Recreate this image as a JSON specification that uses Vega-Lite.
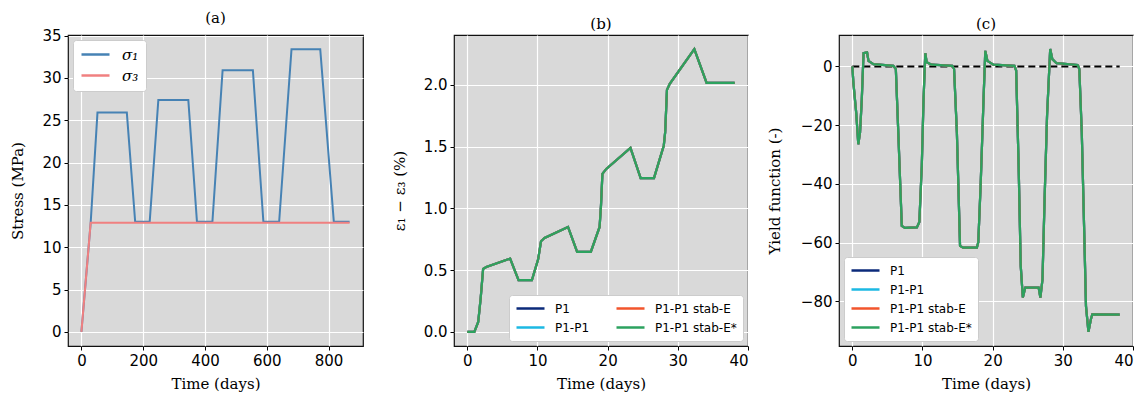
{
  "$schema": "https://vega.github.io/schema/vega-lite/v6.json",
  "background": "white",
  "padding": {"left": 10, "top": 9, "right": 5, "bottom": 5},
  "spacing": 91,
  "bounds": "flush",
  "config": {
    "view": {"fill": "#d9d9d9", "stroke": "#111111", "strokeWidth": 1.2},
    "axis": {
      "labelFont": "DejaVu Sans", "labelFontSize": 15, "labelColor": "black",
      "titleFont": "DejaVu Serif", "titleFontSize": 15, "titleFontWeight": "normal", "titleColor": "black",
      "tickColor": "black", "tickSize": 4, "tickWidth": 1, "domain": false,
      "gridColor": "white", "gridWidth": 1.2, "gridOpacity": 1, "labelPadding": 3
    },
    "axisX": {"titlePadding": 8},
    "title": {"font": "DejaVu Serif", "fontSize": 15, "fontWeight": "normal", "color": "black", "offset": 3},
    "legend": {
      "labelFont": "DejaVu Sans", "labelFontSize": 12, "labelColor": "black",
      "symbolType": "stroke", "symbolSize": 784, "symbolStrokeWidth": 2.5,
      "labelOffset": 9, "fillColor": "white", "strokeColor": "#cccccc", "cornerRadius": 3,
      "padding": 6, "rowPadding": 4, "clipHeight": 15, "offset": 5
    }
  },
  "hconcat": [
    {
      "title": "(a)",
      "width": 295, "height": 311,
      "data": {"values": [
        {"t": 0, "s": 0, "series": "σ₁"},
        {"t": 30, "s": 12.9, "series": "σ₁"},
        {"t": 52, "s": 25.9, "series": "σ₁"},
        {"t": 147, "s": 25.9, "series": "σ₁"},
        {"t": 174, "s": 13.0, "series": "σ₁"},
        {"t": 221, "s": 13.0, "series": "σ₁"},
        {"t": 249, "s": 27.4, "series": "σ₁"},
        {"t": 346, "s": 27.4, "series": "σ₁"},
        {"t": 374, "s": 13.0, "series": "σ₁"},
        {"t": 424, "s": 13.0, "series": "σ₁"},
        {"t": 457, "s": 30.9, "series": "σ₁"},
        {"t": 555, "s": 30.9, "series": "σ₁"},
        {"t": 589, "s": 13.0, "series": "σ₁"},
        {"t": 640, "s": 13.0, "series": "σ₁"},
        {"t": 680, "s": 33.4, "series": "σ₁"},
        {"t": 773, "s": 33.4, "series": "σ₁"},
        {"t": 817, "s": 13.0, "series": "σ₁"},
        {"t": 868, "s": 13.0, "series": "σ₁"},
        {"t": 0, "s": 0, "series": "σ₃"},
        {"t": 30, "s": 12.9, "series": "σ₃"},
        {"t": 868, "s": 12.9, "series": "σ₃"}
      ]},
      "mark": {"type": "line", "strokeWidth": 2, "clip": true},
      "encoding": {
        "x": {"field": "t", "type": "quantitative", "scale": {"domain": [-43.4, 911.4], "nice": false, "zero": false},
              "axis": {"values": [0, 200, 400, 600, 800], "title": "Time (days)"}},
        "y": {"field": "s", "type": "quantitative", "scale": {"domain": [-1.67, 35.07], "nice": false, "zero": false},
              "axis": {"values": [0, 5, 10, 15, 20, 25, 30, 35], "title": "Stress (MPa)", "titlePadding": 16}},
        "color": {"field": "series", "type": "nominal",
                  "scale": {"domain": ["σ₁", "σ₃"], "range": ["#4682b4", "#f08080"]},
                  "legend": {"title": null, "orient": "top-left", "labelFont": "DejaVu Serif", "labelFontSize": 15, "labelFontStyle": "italic", "padding": 7, "rowPadding": 5, "labelOffset": 11}}
      }
    },
    {
      "title": "(b)",
      "width": 294, "height": 311,
      "data": {"values": [
        {"t": 0, "v": 0}, {"t": 1.0, "v": 0.0}, {"t": 1.55, "v": 0.08}, {"t": 1.9, "v": 0.27},
        {"t": 2.25, "v": 0.51}, {"t": 2.7, "v": 0.525}, {"t": 6.1, "v": 0.593}, {"t": 7.3, "v": 0.418},
        {"t": 9.2, "v": 0.418}, {"t": 10.1, "v": 0.59}, {"t": 10.5, "v": 0.734}, {"t": 11.0, "v": 0.76},
        {"t": 14.35, "v": 0.85}, {"t": 15.65, "v": 0.647}, {"t": 17.6, "v": 0.647}, {"t": 18.85, "v": 0.85},
        {"t": 19.05, "v": 1.025}, {"t": 19.25, "v": 1.28}, {"t": 19.8, "v": 1.32}, {"t": 23.25, "v": 1.49},
        {"t": 24.7, "v": 1.246}, {"t": 26.6, "v": 1.246}, {"t": 28.0, "v": 1.51}, {"t": 28.2, "v": 1.62},
        {"t": 28.45, "v": 1.96}, {"t": 28.85, "v": 2.01}, {"t": 32.35, "v": 2.29}, {"t": 34.1, "v": 2.017},
        {"t": 38.1, "v": 2.017}
      ]},
      "encoding": {
        "x": {"field": "t", "type": "quantitative", "scale": {"domain": [-1.9, 40], "nice": false, "zero": false},
              "axis": {"values": [0, 10, 20, 30, 40], "title": "Time (days)"}},
        "y": {"field": "v", "type": "quantitative", "scale": {"domain": [-0.115, 2.405], "nice": false, "zero": false},
              "axis": {"values": [0, 0.5, 1, 1.5, 2], "format": ".1f", "title": "ε₁ − ε₃ (%)", "titlePadding": 16}}
      },
      "layer": [
        {"mark": {"type": "line", "strokeWidth": 2.2}, "encoding": {"color": {"datum": "P1", "type": "nominal",
          "scale": {"domain": ["P1", "P1-P1", "P1-P1 stab-E", "P1-P1 stab-E*"], "range": ["#0b2a7a", "#1cb9e3", "#f2552c", "#2ca25f"]}}}},
        {"mark": {"type": "line", "strokeWidth": 2.2}, "encoding": {"color": {"datum": "P1-P1", "type": "nominal"}}},
        {"mark": {"type": "line", "strokeWidth": 2.2}, "encoding": {"color": {"datum": "P1-P1 stab-E", "type": "nominal"}}},
        {"mark": {"type": "line", "strokeWidth": 2.2}, "encoding": {"color": {"datum": "P1-P1 stab-E*", "type": "nominal",
          "scale": {"domain": ["P1", "P1-P1", "P1-P1 stab-E", "P1-P1 stab-E*"], "range": ["#0b2a7a", "#1cb9e3", "#f2552c", "#2ca25f"]},
          "legend": {"title": null, "orient": "bottom-right", "columns": 2, "columnPadding": 25}}}}
      ],
      "resolve": {"scale": {"color": "shared"}}
    },
    {
      "title": "(c)",
      "width": 294, "height": 311,
      "encoding": {
        "x": {"field": "t", "type": "quantitative", "scale": {"domain": [-1.9, 40], "nice": false, "zero": false},
              "axis": {"values": [0, 10, 20, 30, 40], "title": "Time (days)"}},
        "y": {"field": "v", "type": "quantitative", "scale": {"domain": [-95.2, 10.7], "nice": false, "zero": false},
              "axis": {"values": [-80, -60, -40, -20, 0], "title": "Yield function (-)", "titlePadding": 18,
                       "labelExpr": "datum.value < 0 ? '\u2212' + format(-datum.value, 'd') : format(datum.value, 'd')"}}
      },
      "layer": [
        {
          "data": {"values": [{"t": 0, "v": 0}, {"t": 38.1, "v": 0}]},
          "mark": {"type": "line", "color": "black", "strokeWidth": 2, "strokeDash": [7, 4]}
        },
        {
          "data": {"name": "yf", "values": [
            {"t": 0, "v": 0}, {"t": 0.15, "v": -5.5}, {"t": 0.55, "v": -15.7}, {"t": 0.85, "v": -26.5},
            {"t": 1.1, "v": -22.5}, {"t": 1.35, "v": -11.1}, {"t": 1.6, "v": 4.5}, {"t": 2.1, "v": 4.8},
            {"t": 2.3, "v": 1.9}, {"t": 3.0, "v": 0.8}, {"t": 5.85, "v": 0.2}, {"t": 6.2, "v": -0.9},
            {"t": 6.55, "v": -22.5}, {"t": 7.05, "v": -54.3}, {"t": 7.5, "v": -55.0}, {"t": 9.2, "v": -54.8},
            {"t": 9.55, "v": -53}, {"t": 9.9, "v": -33.8}, {"t": 10.15, "v": -11.1}, {"t": 10.4, "v": 4.5},
            {"t": 10.6, "v": 1.4}, {"t": 11.3, "v": 0.6}, {"t": 14.25, "v": 0.2}, {"t": 14.5, "v": -0.9},
            {"t": 14.9, "v": -22.5}, {"t": 15.35, "v": -61.1}, {"t": 15.8, "v": -61.7}, {"t": 17.75, "v": -61.7},
            {"t": 17.95, "v": -59.9}, {"t": 18.3, "v": -39.5}, {"t": 18.7, "v": -11.1}, {"t": 18.95, "v": 5.3},
            {"t": 19.25, "v": 1.9}, {"t": 20.1, "v": 0.6}, {"t": 23.1, "v": 0.2}, {"t": 23.35, "v": -1.4},
            {"t": 23.7, "v": -33.8}, {"t": 24.0, "v": -67.9}, {"t": 24.3, "v": -78.7}, {"t": 24.65, "v": -75.3},
            {"t": 26.55, "v": -75.3}, {"t": 26.8, "v": -78.7}, {"t": 27.1, "v": -72.5}, {"t": 27.4, "v": -45.2},
            {"t": 27.75, "v": -16.9}, {"t": 28.2, "v": 5.9}, {"t": 28.5, "v": 2.5}, {"t": 29.1, "v": 1.1},
            {"t": 32.1, "v": 0.5}, {"t": 32.35, "v": -0.9}, {"t": 32.7, "v": -22.5}, {"t": 33.05, "v": -56.6},
            {"t": 33.3, "v": -81.6}, {"t": 33.65, "v": -90.4}, {"t": 34.0, "v": -86.1}, {"t": 34.2, "v": -84.4},
            {"t": 38.1, "v": -84.5}
          ]},
          "layer": [
            {"mark": {"type": "line", "strokeWidth": 2.2}, "encoding": {"color": {"datum": "P1", "type": "nominal",
              "scale": {"domain": ["P1", "P1-P1", "P1-P1 stab-E", "P1-P1 stab-E*"], "range": ["#0b2a7a", "#1cb9e3", "#f2552c", "#2ca25f"]}}}},
            {"mark": {"type": "line", "strokeWidth": 2.2}, "encoding": {"color": {"datum": "P1-P1", "type": "nominal"}}},
            {"mark": {"type": "line", "strokeWidth": 2.2}, "encoding": {"color": {"datum": "P1-P1 stab-E", "type": "nominal"}}},
            {"mark": {"type": "line", "strokeWidth": 2.2}, "encoding": {"color": {"datum": "P1-P1 stab-E*", "type": "nominal",
              "scale": {"domain": ["P1", "P1-P1", "P1-P1 stab-E", "P1-P1 stab-E*"], "range": ["#0b2a7a", "#1cb9e3", "#f2552c", "#2ca25f"]},
              "legend": {"title": null, "orient": "bottom-left"}}}}
          ]
        }
      ]
    }
  ],
  "resolve": {"scale": {"color": "independent"}, "legend": {"color": "independent"}}
}
